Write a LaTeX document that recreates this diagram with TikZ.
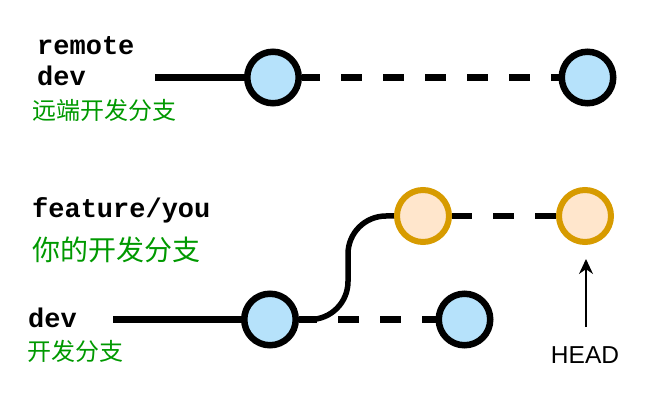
\documentclass[tikz,border=0pt]{standalone}
\usepackage{fontspec}
\setmainfont{Liberation Sans}
\newfontfamily\codefont{Liberation Mono}
\newfontfamily\cjk{Noto Sans CJK SC}
\usetikzlibrary{arrows.meta,backgrounds}
\definecolor{bluefill}{RGB}{182,226,251}
\definecolor{orangefill}{RGB}{255,230,204}
\definecolor{orangeline}{RGB}{215,155,0}
\definecolor{labelgreen}{RGB}{0,153,0}
\tikzset{
  bluecommit/.style={circle, draw=black, line width=6.5pt, fill=bluefill, minimum size=51.5pt, inner sep=0pt},
  orangecommit/.style={circle, draw=orangeline, line width=6pt, fill=orangefill, minimum size=52pt, inner sep=0pt},
  solidline/.style={line width=6.5pt},
  dashline/.style={line width=6.5pt, dash pattern=on 21pt off 21pt, dash phase=3pt},
  codelabel/.style={anchor=base west, inner sep=0pt, font=\codefont\bfseries\fontsize{27}{30}\selectfont},
  cjklabel/.style={anchor=base west, inner sep=0pt, text=labelgreen, font=\cjk\fontsize{24}{28}\selectfont},
}
\begin{document}
\begin{tikzpicture}[x=1pt,y=-1pt]
\useasboundingbox (0,0) rectangle (670,417);
% top row
\node[bluecommit] (r1) at (273,77.5) {};
\node[bluecommit] (r2) at (587.5,77.5) {};
\coordinate (rstart) at (155,77.5);
% bottom rows
\node[bluecommit] (d1) at (270,319.5) {};
\node[bluecommit] (d2) at (464.5,319.5) {};
\coordinate (dstart) at (113,319.5);
\node[orangecommit] (f1) at (423,216) {};
\node[orangecommit] (f2) at (585,216) {};
\coordinate (bendx) at (348,0);
\begin{scope}[on background layer]
\draw[solidline] (rstart) -- (r1.center);
\draw[dashline] (r1.east) -- (r2.west);
\draw[solidline] (dstart) -- (d1.center);
\draw[dashline] (d1.east) -- (d2.west);
\draw[line width=5.5pt, rounded corners=38pt] (d1.center) -- (bendx |- d1.center) -- (bendx |- f1.center) -- (f1.center);
\draw[dashline, dash phase=1pt] (f1.east) -- (f2.west);
\end{scope}
% HEAD
\node[anchor=base, inner sep=0pt, font=\fontsize{24.5}{28}\selectfont] (head) at (585,363) {HEAD};
\coordinate (headtail) at (586,327);
\coordinate (headtip) at (586,259);
\draw[line width=1.5pt, -{Stealth[length=15pt,width=14pt]}] (headtail) -- (headtip);
% labels
\node[codelabel] (lremote) at (37,55) {remote};
\node[codelabel] (ldev1) at (37,86) {dev};
\node[cjklabel] (lcn1) at (32,120) {远端开发分支};
\node[codelabel] (lfeat) at (32,218) {feature/you};
\node[cjklabel, font=\cjk\fontsize{28}{32}\selectfont] (lcn2) at (32,261) {你的开发分支};
\node[codelabel] (ldev2) at (28,327) {dev};
\node[cjklabel] (lcn3) at (27,360) {开发分支};
\end{tikzpicture}
\end{document}
